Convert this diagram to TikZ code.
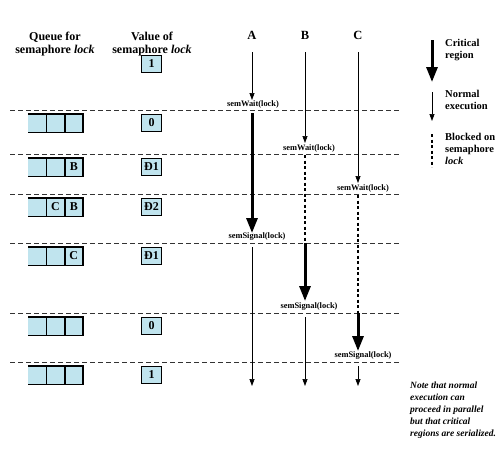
\documentclass[tikz,border=0pt]{standalone}
\usepackage{fontspec}
\setmainfont{Liberation Serif}
\usetikzlibrary{arrows.meta}
\definecolor{boxfill}{RGB}{192,228,238}
\begin{document}
\begin{tikzpicture}[x=1pt,y=-1pt,
  hdr/.style={font=\fontsize{12}{13}\selectfont\bfseries, align=center, inner sep=0pt},
  proc/.style={font=\fontsize{12.5}{13}\selectfont\bfseries, inner sep=0pt},
  lbl/.style={font=\fontsize{8.4}{9}\selectfont\bfseries, inner sep=0pt},
  legtext/.style={font=\fontsize{10.5}{12}\selectfont\bfseries, align=left, anchor=north west, inner sep=0pt},
  notetext/.style={font=\fontsize{9.5}{12}\selectfont\bfseries\itshape, align=left, anchor=north west, inner sep=0pt},
  cellbox/.style={fill=boxfill, minimum width=18.33pt, minimum height=18pt, inner sep=0pt, font=\fontsize{12}{12}\selectfont\bfseries},
  valbox/.style={fill=boxfill, draw=black, line width=1.4pt, minimum width=20pt, minimum height=17pt, inner sep=0pt, font=\fontsize{12}{12}\selectfont\bfseries},
  cellline/.style={line width=1.4pt, black},
  sepline/.style={dash pattern=on 4.5pt off 3.5pt, line width=0.7pt, black!80},
  normalarrow/.style={line width=0.7pt, -{Triangle[length=7pt,width=5pt]}},
  critical/.style={line width=3pt, -{Triangle[length=15pt,width=11pt]}},
  blocked/.style={line width=2.2pt, dash pattern=on 3pt off 2.5pt},
]
\useasboundingbox (0,0) rectangle (498,469);

% headers
\node[hdr] (hq) at (55,44) {Queue for\\semaphore \textit{lock}};
\node[hdr] (hv) at (152,44) {Value of\\semaphore \textit{lock}};
\node[proc] (pA) at (252,35) {A};
\node[proc] (pB) at (305,35) {B};
\node[proc] (pC) at (358,35) {C};

% initial value
\node[valbox] (v0) at (151.5,64) {1};

% rows
\foreach \i/\y/\v/\cb/\cc in {1/110/0//, 2/154/Ð1//B, 3/194/Ð2/C/B, 4/243/Ð1//C, 5/313/0//, 6/362/1//}{
  \coordinate (L\i w) at (10,\y);
  \coordinate (L\i e) at (400,\y);
  \draw[sepline] (L\i w) -- (L\i e);
  \node[valbox] (v\i) at (151.5,\y+13) {\v};
  \node[cellbox] (q\i a) at (37.17,\y+13) {};
  \node[cellbox] (q\i b) at (55.5,\y+13) {\cb};
  \node[cellbox] (q\i c) at (73.83,\y+13) {\cc};
  \draw[cellline] (q\i a.north west) -- (q\i c.north east) -- (q\i c.south east) -- (q\i a.south west);
  \draw[cellline] (q\i a.north east) -- (q\i a.south east);
  \draw[cellline] (q\i b.north east) -- (q\i b.south east);
}

% process A
\coordinate (A0) at (252,52);
\coordinate (A1) at (252,100);
\coordinate (A2) at (252,113);
\coordinate (A3) at (252,233);
\coordinate (A4) at (252,247);
\coordinate (A5) at (252,386);
\draw[normalarrow] (A0) -- (A1);
\node[lbl] (wA) at (253,104) {semWait(lock)};
\draw[critical] (A2) -- (A3);
\node[lbl] (sA) at (257,237) {semSignal(lock)};
\draw[normalarrow] (A4) -- (A5);

% process B
\coordinate (B0) at (305,52);
\coordinate (B1) at (305,143);
\coordinate (B2) at (305,155);
\coordinate (B3) at (305,243);
\coordinate (B5) at (305,301);
\coordinate (B6) at (305,317);
\coordinate (B7) at (305,386);
\draw[normalarrow] (B0) -- (B1);
\node[lbl] (wB) at (309,148) {semWait(lock)};
\draw[blocked] (B2) -- (B3);
\draw[critical] (B3) -- (B5);
\node[lbl] (sB) at (309,307) {semSignal(lock)};
\draw[normalarrow] (B6) -- (B7);

% process C
\coordinate (C0) at (358,52);
\coordinate (C1) at (358,183);
\coordinate (C2) at (358,195);
\coordinate (C3) at (358,313);
\coordinate (C5) at (358,351);
\coordinate (C6) at (358,366);
\coordinate (C7) at (358,386);
\draw[normalarrow] (C0) -- (C1);
\node[lbl] (wC) at (363,188) {semWait(lock)};
\draw[blocked] (C2) -- (C3);
\draw[critical] (C3) -- (C5);
\node[lbl] (sC) at (363,356) {semSignal(lock)};
\draw[normalarrow] (C6) -- (C7);

% legend
\coordinate (k0) at (432,40);
\coordinate (k1) at (432,82);
\coordinate (k2) at (432,92);
\coordinate (k3) at (432,121);
\coordinate (k4) at (432,134);
\coordinate (k5) at (432,167);
\draw[critical] (k0) -- (k1);
\draw[normalarrow] (k2) -- (k3);
\draw[blocked] (k4) -- (k5);
\node[legtext] (tk1) at (445,39) {Critical\\region};
\node[legtext] (tk2) at (445,90) {Normal\\execution};
\node[legtext] (tk3) at (445,133) {Blocked on\\semaphore\\\textit{lock}};

% note
\node[notetext] (note) at (410,382) {Note that normal\\execution can\\proceed in parallel\\but that critical\\regions are serialized.};
\end{tikzpicture}
\end{document}
